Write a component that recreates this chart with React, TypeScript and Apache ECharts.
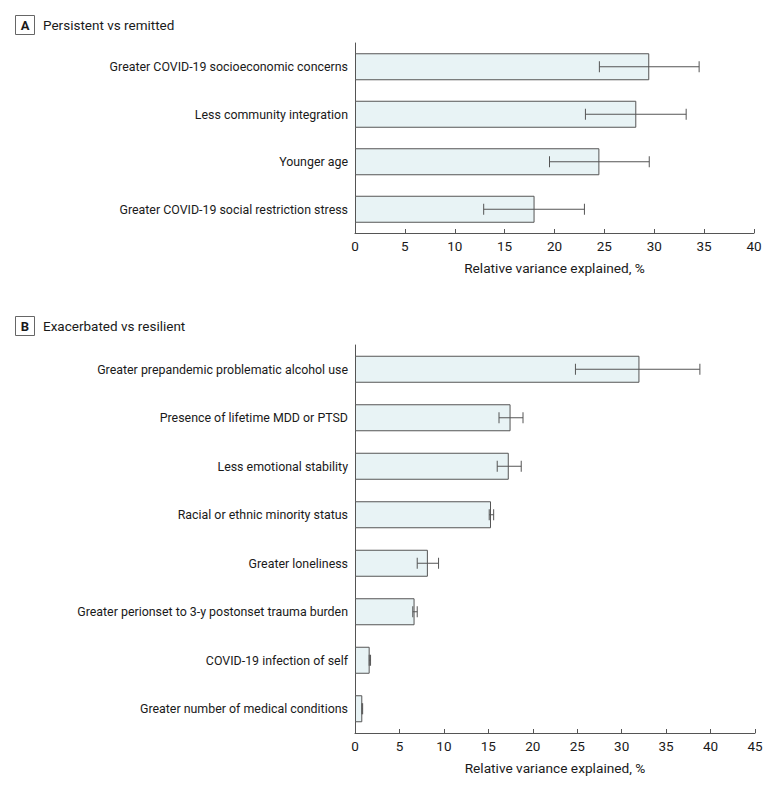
import React, { useEffect, useRef } from "react";
import * as echarts from "echarts";

const catsA = [
  "Greater COVID-19 socioeconomic concerns",
  "Less community integration",
  "Younger age",
  "Greater COVID-19 social restriction stress",
];
const valsA = [29.5, 28.2, 24.5, 18.0];
const lowA = [24.5, 23.1, 19.5, 12.9];
const highA = [34.5, 33.2, 29.5, 23.0];

const catsB = [
  "Greater prepandemic problematic alcohol use",
  "Presence of lifetime MDD or PTSD",
  "Less emotional stability",
  "Racial or ethnic minority status",
  "Greater loneliness",
  "Greater perionset to 3-y postonset trauma burden",
  "COVID-19 infection of self",
  "Greater number of medical conditions",
];
const valsB = [32.0, 17.5, 17.3, 15.3, 8.2, 6.7, 1.65, 0.82];
const lowB = [24.8, 16.2, 16.0, 15.1, 7.0, 6.5, 1.6, 0.78];
const highB = [38.8, 18.9, 18.7, 15.6, 9.4, 7.0, 1.75, 0.86];

const FONT = "Roboto, sans-serif";
const AXIS_COLOR = "#555";
const BAR_FILL = "#e8f3f5";
const TEXT = "#1a1a1a";

export default function App() {
  const ref = useRef<HTMLDivElement>(null);
  useEffect(() => {
    if (!ref.current) return;
    const chart = echarts.init(ref.current, null, { renderer: "svg" });

    const errRender = (lows: number[], highs: number[]) => (params: any, api: any) => {
      const i = api.value(0);
      const c = api.value(1);
      const p1 = api.coord([lows[i], c]);
      const p2 = api.coord([highs[i], c]);
      const h = 5.5;
      const style = { stroke: "#555", lineWidth: 1, fill: null };
      return {
        type: "group",
        children: [
          { type: "line", shape: { x1: p1[0], y1: p1[1], x2: p2[0], y2: p2[1] }, style },
          { type: "line", shape: { x1: p1[0], y1: p1[1] - h, x2: p1[0], y2: p1[1] + h }, style },
          { type: "line", shape: { x1: p2[0], y1: p2[1] - h, x2: p2[0], y2: p2[1] + h }, style },
        ],
      };
    };

    const xAxisCommon = (max: number) => ({
      type: "value",
      min: 0,
      max,
      interval: 5,
      name: "Relative variance explained, %",
      nameLocation: "middle",
      nameGap: 28,
      nameTextStyle: { fontFamily: FONT, fontSize: 13.7, color: TEXT },
      axisLine: { show: true, lineStyle: { color: AXIS_COLOR, width: 1 } },
      axisTick: { show: true, inside: true, length: 4, lineStyle: { color: AXIS_COLOR } },
      axisLabel: { fontFamily: FONT, fontSize: 13.5, color: TEXT, margin: 6 },
      splitLine: { show: false },
    });
    const yAxisCommon = (cats: string[]) => ({
      type: "category",
      data: cats,
      inverse: true,
      axisLine: { show: true, lineStyle: { color: AXIS_COLOR, width: 1 } },
      axisTick: { show: false },
      axisLabel: { fontFamily: FONT, fontSize: 12.4, color: TEXT, margin: 7 },
    });

    chart.setOption({
      animation: false,
      grid: [
        { left: 355, right: 26, top: 43, height: 190 },
        { left: 355, right: 25, top: 345, height: 388 },
      ],
      xAxis: [
        { ...xAxisCommon(40), gridIndex: 0 },
        { ...xAxisCommon(45), gridIndex: 1 },
      ],
      yAxis: [
        { ...yAxisCommon(catsA), gridIndex: 0 },
        { ...yAxisCommon(catsB), gridIndex: 1 },
      ],
      graphic: [
        { type: "rect", shape: { x: 15.5, y: 15.5, width: 19, height: 19 }, style: { fill: "#fff", stroke: "#666", lineWidth: 1 } },
        { type: "text", x: 25, y: 25, style: { text: "A", fontFamily: FONT, fontWeight: "bold", fontSize: 13, fill: TEXT, align: "center", verticalAlign: "middle" } },
        { type: "text", x: 43, y: 25, style: { text: "Persistent vs remitted", fontFamily: FONT, fontSize: 13.5, fill: TEXT, verticalAlign: "middle" } },
        { type: "rect", shape: { x: 15.5, y: 316.5, width: 19, height: 19 }, style: { fill: "#fff", stroke: "#666", lineWidth: 1 } },
        { type: "text", x: 25, y: 326, style: { text: "B", fontFamily: FONT, fontWeight: "bold", fontSize: 13, fill: TEXT, align: "center", verticalAlign: "middle" } },
        { type: "text", x: 43, y: 326, style: { text: "Exacerbated vs resilient", fontFamily: FONT, fontSize: 13.5, fill: TEXT, verticalAlign: "middle" } },
      ],
      series: [
        {
          type: "bar",
          xAxisIndex: 0,
          yAxisIndex: 0,
          data: valsA,
          barWidth: 27,
          itemStyle: { color: BAR_FILL, borderColor: AXIS_COLOR, borderWidth: 1 },
        },
        {
          type: "custom",
          xAxisIndex: 0,
          yAxisIndex: 0,
          data: valsA.map((_, i) => [i, i]),
          encode: { x: 0, y: 1 },
          renderItem: errRender(lowA, highA),
          z: 5,
        },
        {
          type: "bar",
          xAxisIndex: 1,
          yAxisIndex: 1,
          data: valsB,
          barWidth: 27,
          itemStyle: { color: BAR_FILL, borderColor: AXIS_COLOR, borderWidth: 1 },
        },
        {
          type: "custom",
          xAxisIndex: 1,
          yAxisIndex: 1,
          data: valsB.map((_, i) => [i, i]),
          encode: { x: 0, y: 1 },
          renderItem: errRender(lowB, highB),
          z: 5,
        },
      ],
    });
    return () => chart.dispose();
  }, []);
  return (
    <div
      ref={ref}
      style={{ position: "absolute", left: 0, top: 0, width: 780, height: 789, background: "#fff" }}
    />
  );
}
